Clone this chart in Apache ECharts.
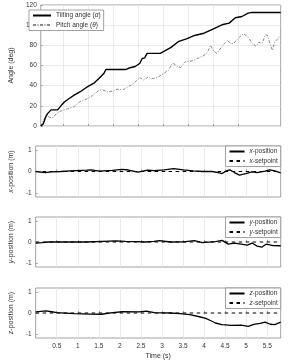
<!DOCTYPE html>
<html><head><meta charset="utf-8">
<script src="https://cdn.jsdelivr.net/npm/echarts@6/dist/echarts.min.js"></script>
<style>html,body{margin:0;padding:0;background:#fff}#c{width:291px;height:361px}</style>
</head><body><div id="c"></div>
<script>
// ---------- data ----------
const tiltT = [0,0.06,0.12,0.16,0.25,0.41,0.5,0.58,0.69,0.81,0.96,1.07,1.16,1.30,1.41,1.53,1.58,1.68,2.06,2.14,2.29,2.40,2.46,2.52,2.58,2.90,3.16,3.35,3.55,3.73,3.96,4.19,4.42,4.57,4.72,4.88,5.03,5.10,5.82];
const tiltA = [0,2,9,12,16,16,20.5,24,27.3,30.6,34,37.2,39.5,42.8,47,52,56,56,56,57.5,59,62,67,67.5,72,72,78,84,86.6,89.8,92,96.4,100.7,102,107.3,108.6,111.9,112.5,112.5];
const pitchT = [0,0.1,0.15,0.22,0.3,0.4,0.5,0.65,0.8,0.95,1.1,1.25,1.4,1.5,1.6,1.75,1.85,2.0,2.1,2.25,2.4,2.5,2.6,2.7,2.82,2.94,3.09,3.2,3.32,3.39,3.51,3.66,3.81,3.96,4.04,4.12,4.19,4.27,4.38,4.46,4.53,4.61,4.68,4.80,4.92,5.03,5.14,5.22,5.29,5.37,5.45,5.5,5.56,5.62,5.67,5.75,5.81];
const pitchA = [0,8,10.5,8.5,8.5,13,15,17,19,24,26.5,30,35,36,34,34.5,36.5,36,38.5,42,48,45.5,48.5,47,48,51,55,62.5,59,58,64,64.5,67,70,73,80,74.5,72,78,82,85,81.6,82,87.5,91.5,88,81.6,79,83,82,90.5,90,81.6,75,83,86.6,90];

const xT = [0,0.23,0.38,0.6,0.83,1.21,1.32,1.51,1.82,2.05,2.2,2.43,2.66,2.82,3.05,3.28,3.51,3.74,3.97,4.19,4.34,4.42,4.53,4.61,4.72,4.84,4.99,5.14,5.26,5.45,5.56,5.68,5.82];
const xP = [0,-0.05,-0.02,0,0.03,0.06,0.08,0.02,0.05,0.1,0.07,-0.03,0.06,0.04,0.08,0.14,0.08,0.03,0,0,-0.05,-0.1,0.03,0.08,-0.05,-0.17,-0.1,-0.02,-0.05,0.02,0.08,0.03,-0.06];

const yT = [0,0.16,0.3,1.2,1.6,1.9,2.13,2.4,2.6,2.81,2.94,3.2,3.5,3.77,3.96,4.27,4.43,4.57,4.72,4.88,5.03,5.14,5.26,5.37,5.48,5.64,5.82];
const yP = [-0.05,-0.03,0,0,0.03,0.05,0.03,0.02,0,0.03,0.07,0,0.01,0.07,-0.03,0.02,0.08,-0.1,-0.05,-0.1,-0.15,-0.05,-0.2,-0.25,-0.1,-0.17,-0.18];

const zT = [0,0.24,0.38,0.5,0.92,1.3,1.56,1.83,2.06,2.45,2.63,2.82,3.2,3.43,3.66,3.89,4.04,4.15,4.27,4.42,4.65,4.88,5.05,5.18,5.33,5.45,5.57,5.68,5.82];
const zP = [0.05,0.1,0.06,0.02,-0.03,-0.05,-0.06,0.02,0.06,0.05,0.09,0.02,0,-0.03,-0.08,-0.18,-0.26,-0.36,-0.48,-0.56,-0.59,-0.58,-0.64,-0.55,-0.5,-0.44,-0.54,-0.56,-0.44];

const setT = [0,5.82];
const setP = [0,0];

const tLabels = [0.5,1,1.5,2,2.5,3,3.5,4,4.5,5,5.5];
const topTicks = [0.539,1.148,1.756,2.365,2.968,3.571,4.18,4.785];
const angTicks = [0,20,40,60,80,100,120];
const posTicks = [-1,0,1];

// ---------- chart ----------
const zip = (a,b)=>a.map((v,i)=>[v,b[i]]);
const txt = '#333';
const grids = [
  {left:26.4, top:5, width:254.3, height:121},
  {left:26.4, top:146, width:254.3, height:51},
  {left:26.4, top:217, width:254.3, height:50},
  {left:26.4, top:288, width:254.3, height:51}
].map(g=>Object.assign(g,{show:true,borderColor:'#8a8a8a',borderWidth:0.8,backgroundColor:'#fff'}));

function xAx(i){
  const bottom = i===3;
  return {
    type:'value', gridIndex:i, min:0, max:5.82,
    axisLine:{show:false},
    axisTick:{show:true,inside:true,length:2,lineStyle:{color:'#8a8a8a',width:0.8},customValues: i===0?topTicks:tLabels},
    axisLabel:{show:bottom,customValues:tLabels,fontSize:6.5,color:txt,margin:5,fontFamily:'Liberation Sans'},
    splitLine:{show:true,lineStyle:{color:'#e6e6e6',width:0.8}},
    name: bottom?'Time (s)':'', nameLocation:'middle', nameGap:15,
    nameTextStyle:{fontSize:7,color:txt,fontFamily:'Liberation Sans'}
  };
}
function yAx(i,name){
  const ang = i===0;
  return {
    type:'value', gridIndex:i, min: ang?0:-1.2, max: ang?120:1.2,
    axisLine:{show:false},
    axisTick:{show:true,inside:true,length:2,lineStyle:{color:'#8a8a8a',width:0.8},customValues: ang?angTicks:posTicks},
    axisLabel:{customValues: ang?angTicks:posTicks,fontSize:6.5,color:txt,margin:4,fontFamily:'Liberation Sans'},
    splitLine:{show:ang,lineStyle:{color:'#e6e6e6',width:0.8}},
    name: name, nameLocation:'middle', nameGap: ang?17:15,
    nameTextStyle:{fontSize:7,color:txt,fontFamily:'Liberation Sans',
      rich:{i:{fontStyle:'italic',fontSize:7,color:txt,fontFamily:'Liberation Sans'}}}
  };
}
function ln(name,i,t,v,opts){
  return Object.assign({type:'line',name:name,xAxisIndex:i,yAxisIndex:i,data:zip(t,v),symbol:'none',
    showSymbol:false,legendIcon:'none',animation:false,silent:true},opts);
}
const solid = {lineStyle:{color:'#000',width:1.3,type:'solid'},itemStyle:{color:'#000'}};
const dash = {lineStyle:{color:'#000',width:1.2,type:[3.5,3.5]},itemStyle:{color:'#000'}};

const legText = {fontSize:6.5,color:txt,fontFamily:'Liberation Sans',
  rich:{i:{fontStyle:'italic',fontSize:6.5,color:txt,fontFamily:'Liberation Sans'}}};
const legCommon = {orient:'vertical',itemHeight:6,itemGap:2.5,padding:[2,3,2,3],
  borderColor:'#8a8a8a',borderWidth:0.8,backgroundColor:'#fff',selectedMode:false,
  itemStyle:{opacity:0,borderWidth:0},textStyle:legText};
function legPos(i,top){
  const v = ['x','y','z'][i-1];
  return Object.assign({},legCommon,{right:10.3,top:top,itemWidth:15,
    data:[v+'-position',v+'-setpoint'],
    formatter:n=>'{i|'+n[0]+'}'+n.slice(1)});
}

const option = {
  animation:false,
  backgroundColor:'#fff',
  grid:grids,
  xAxis:[xAx(0),xAx(1),xAx(2),xAx(3)],
  yAxis:[yAx(0,'Angle (deg)'),yAx(1,'{i|x}-position (m)'),yAx(2,'{i|y}-position (m)'),yAx(3,'{i|z}-position (m)')],
  legend:[
    Object.assign({},legCommon,{left:29,top:10,itemWidth:18,
     data:['Tilting angle','Pitch angle'],
     formatter:n=> n==='Tilting angle'?'Tilting angle ({i|α})':'Pitch angle ({i|θ})'}),
    legPos(1,146),legPos(2,217),legPos(3,288)
  ],
  series:[
    ln('Tilting angle',0,tiltT,tiltA,{lineStyle:{color:'#000',width:1.4},itemStyle:{color:'#000'},z:3}),
    ln('Pitch angle',0,pitchT,pitchA,{lineStyle:{color:'#888',width:1,type:[3,1.5,1,1.5]},itemStyle:{color:'#888'},z:2}),
    ln('x-setpoint',1,setT,setP,dash),
    ln('x-position',1,xT,xP,solid),
    ln('y-setpoint',2,setT,setP,dash),
    ln('y-position',2,yT,yP,solid),
    ln('z-setpoint',3,setT,setP,dash),
    ln('z-position',3,zT,zP,solid)
  ]
};
const chart = echarts.init(document.getElementById('c'),null,{renderer:'canvas'});
chart.setOption(option);
</script></body></html>
